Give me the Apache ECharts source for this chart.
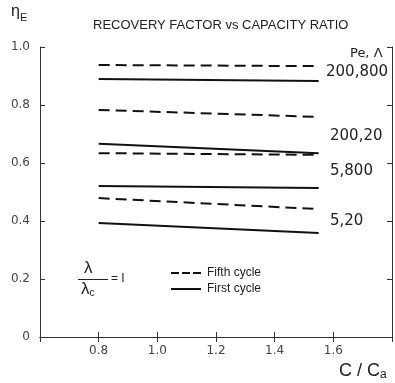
<!DOCTYPE html>
<html><head><meta charset="utf-8">
<script src="https://cdn.jsdelivr.net/npm/echarts@6/dist/echarts.min.js"></script>
<style>html,body{margin:0;padding:0;background:#fff}#c{width:395px;height:383px}</style>
</head><body><div id="c"></div>
<script>
const xs = [0.8, 1.55];
const fifth_200_800 = [0.938, 0.934];
const first_200_800 = [0.890, 0.883];
const fifth_200_20 = [0.783, 0.759];
const first_200_20 = [0.666, 0.634];
const fifth_5_800 = [0.634, 0.628];
const first_5_800 = [0.521, 0.514];
const fifth_5_20 = [0.479, 0.441];
const first_5_20 = [0.393, 0.359];
const xTicks = [0.8, 1.0, 1.2, 1.4, 1.6];
const yTicks = [0, 0.2, 0.4, 0.6, 0.8, 1.0];
const caseLabels = ['200,800', '200,20', '5,800', '5,20'];

const FONT = 'Liberation Sans';
const WIDE = 'DejaVu Sans';
const fifth = [fifth_200_800, fifth_200_20, fifth_5_800, fifth_5_20];
const first = [first_200_800, first_200_20, first_5_800, first_5_20];
function mk(name, vals, type) {
  return {
    type: 'line', name: name, data: xs.map((x, i) => [x, vals[i]]),
    symbol: 'none', silent: true,
    lineStyle: { color: '#111', width: 2, type: type === 'dashed' ? [11, 6] : 'solid' },
    itemStyle: { color: '#111' }
  };
}
const series = [];
fifth.forEach(v => series.push(mk('Fifth cycle', v, 'dashed')));
first.forEach(v => series.push(mk('First cycle', v, 'solid')));

const axisCommon = {
  axisLine: { show: true, lineStyle: { color: '#333', width: 1 } },
  axisTick: { show: true, inside: true, length: 5, lineStyle: { color: '#333' } },
  splitLine: { show: false }
};
const chart = echarts.init(document.getElementById('c'));
chart.setOption({
  animation: false,
  textStyle: { fontFamily: FONT },
  title: { text: 'RECOVERY FACTOR vs CAPACITY RATIO', left: 88, top: 14,
    textStyle: { fontFamily: FONT, fontSize: 13, fontWeight: 'normal', color: '#222' } },
  grid: { left: 40, right: 3, top: 47, bottom: 46 },
  legend: { orient: 'vertical', left: 166, top: 262,
    data: [
      { name: 'Fifth cycle', icon: 'path://M0,0h8v2h-8z M11,0h8v2h-8z M22,0h8v2h-8z' },
      { name: 'First cycle', icon: 'path://M0,0h30v2h-30z' }
    ],
    itemWidth: 30, itemHeight: 2, itemGap: 4,
    textStyle: { fontFamily: FONT, fontSize: 12, color: '#222', padding: [0, 0, 0, 1] } },
  xAxis: [
    Object.assign({ type: 'value', min: 0.6, max: 1.8, interval: 0.2,
      axisLabel: { color: '#444', fontSize: 12, fontFamily: WIDE, margin: 8,
        formatter: v => xTicks.some(t => Math.abs(t - v) < 1e-6) ? v.toFixed(1) : '' } }, axisCommon),
    Object.assign({ type: 'value', position: 'top', min: 0.6, max: 1.8, interval: 0.2,
      axisLabel: { show: false } }, axisCommon)
  ],
  yAxis: [
    Object.assign({ type: 'value', min: 0, max: 1, interval: 0.2,
      axisLabel: { color: '#444', fontSize: 12, fontFamily: WIDE, margin: 10,
        formatter: v => yTicks.some(t => Math.abs(t - v) < 1e-6) ? (v === 0 ? '0' : v.toFixed(1)) : '' } }, axisCommon),
    Object.assign({ type: 'value', position: 'right', min: 0, max: 1, interval: 0.2,
      axisLabel: { show: false } }, axisCommon)
  ],
  series: series,
  graphic: [
    { type: 'text', left: 11, top: 4, style: { text: '{a|η}{b|E}', fill: '#222',
      rich: { a: { fontSize: 16, fontFamily: FONT }, b: { fontSize: 11, fontFamily: FONT, padding: [11, 0, 0, 0] } } } },
    { type: 'text', left: 350, top: 47, style: { text: 'Pe, Λ', fill: '#222', font: '13px ' + WIDE } },
    { type: 'text', left: 326, top: 65, style: { text: caseLabels[0], fill: '#222', font: '15px ' + WIDE } },
    { type: 'text', left: 330, top: 129, style: { text: caseLabels[1], fill: '#222', font: '15px ' + WIDE } },
    { type: 'text', left: 330, top: 164, style: { text: caseLabels[2], fill: '#222', font: '15px ' + WIDE } },
    { type: 'text', left: 330, top: 214, style: { text: caseLabels[3], fill: '#222', font: '15px ' + WIDE } },
    { type: 'text', left: 84, top: 260, style: { text: 'λ', fill: '#222', font: '17px ' + FONT } },
    { type: 'line', shape: { x1: 78, y1: 279.5, x2: 108, y2: 279.5 }, style: { stroke: '#222', lineWidth: 1 } },
    { type: 'text', left: 81, top: 281, style: { text: '{a|λ}{b|c}', fill: '#222',
      rich: { a: { fontSize: 17, fontFamily: FONT }, b: { fontSize: 10, fontFamily: FONT, padding: [7, 0, 0, 0] } } } },
    { type: 'text', left: 111, top: 273, style: { text: '= I', fill: '#222', font: '12px ' + FONT } },
    { type: 'text', left: 339, top: 362, style: { text: '{a|C / C}{b|a}', fill: '#222',
      rich: { a: { fontSize: 18, fontFamily: FONT }, b: { fontSize: 12, fontFamily: FONT, padding: [8, 0, 0, 0] } } } }
  ]
});
</script></body></html>
